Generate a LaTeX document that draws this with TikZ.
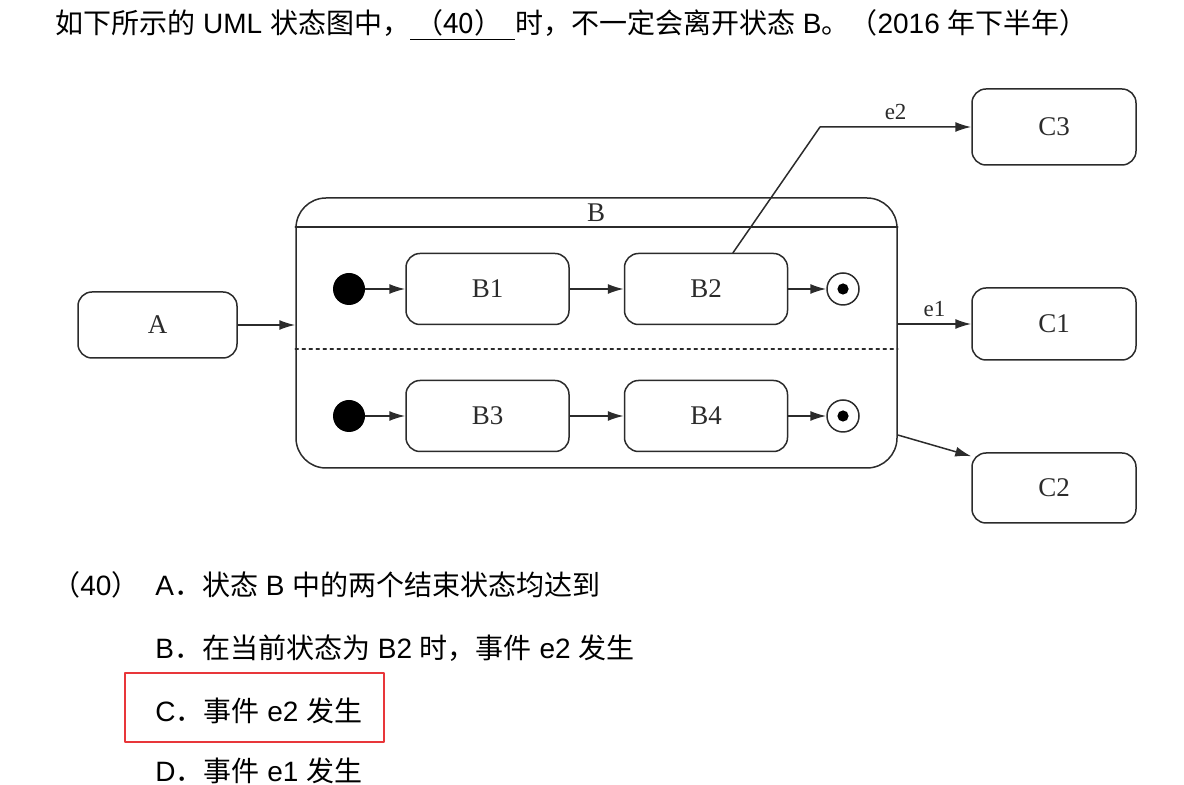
\documentclass[tikz,border=0pt]{standalone}
\usepackage{fontspec}
\setmainfont{Liberation Sans}
\newfontfamily\cjk{Noto Sans CJK SC}
\newfontfamily\tnr{Liberation Serif}
\newcommand{\zh}[1]{{\cjk #1}}
\usetikzlibrary{arrows.meta}
\definecolor{ink}{HTML}{2B2B2B}
\definecolor{mark}{HTML}{E8363A}
\tikzset{
  every picture/.style={line join=round, line cap=round},
  state/.style={draw=ink, line width=0.75pt, rounded corners=7pt, minimum width=81.5pt, minimum height=35.5pt, inner sep=0pt, text=ink, font=\tnr\fontsize{13.5}{15}\selectfont},
  initial/.style={circle, fill=black, minimum size=16pt, inner sep=0pt},
  final/.style={circle, draw=ink, line width=0.75pt, minimum size=16pt, inner sep=0pt},
  trans/.style={draw=ink, line width=0.75pt, -{Latex[length=8pt,width=5pt]}},
  evt/.style={text=ink, font=\tnr\fontsize{11.5}{13}\selectfont},
  txt/.style={anchor=base west, inner sep=0pt, font=\fontsize{14}{16}\selectfont},
}

\begin{document}
\begin{tikzpicture}[x=0.5pt,y=-0.5pt]
\useasboundingbox (0,0) rectangle (1184,785);
% question
\node[txt] (q) at (55,34) {\zh{如下所示的} UML \zh{状态图中，}\underline{\hspace{2.5pt}\zh{（40）}\hspace{6.5pt}}\zh{时，不一定会离开状态} B\zh{。（}2016 \zh{年下半年）}};

% composite state B
\node[state, minimum width=300.5pt, minimum height=135pt, rounded corners=15pt] (B) at (596.5,333) {};
\draw[ink, line width=0.75pt] ([yshift=-15pt]B.north west) -- ([yshift=-15pt]B.north east);
\node[text=ink, font=\tnr\fontsize{13.5}{15}\selectfont] (Bname) at (596,213) {B};
\draw[ink, line width=0.75pt, dash pattern=on 1.5pt off 2pt] ([yshift=-8pt]B.west) -- ([yshift=-8pt]B.east);

\node[state, minimum width=79.5pt, minimum height=33pt] (A) at (157.5,325) {A};

% upper region
\node[initial] (i1) at (349,289) {};
\node[state] (B1) at (487.5,289) {B1};
\node[state] (B2) at (706,289) {B2};
\node[final] (f1) at (843,289) {};
\fill[black] (f1) circle[radius=2.8pt];

% lower region
\node[initial] (i2) at (349,416) {};
\node[state] (B3) at (487.5,416) {B3};
\node[state] (B4) at (706,416) {B4};
\node[final] (f2) at (843,416) {};
\fill[black] (f2) circle[radius=2.8pt];

\node[state, minimum width=82pt, minimum height=38pt] (C3) at (1054,127) {C3};
\node[state, minimum width=82pt, minimum height=36pt] (C1) at (1054,324) {C1};
\node[state, minimum width=82pt, minimum height=35pt] (C2) at (1054,488) {C2};

\draw[trans] (A) -- (A -| B.west);
\draw[trans] (i1) -- (B1);
\draw[trans] (B1) -- (B2);
\draw[trans] (B2) -- (f1);
\draw[trans] (i2) -- (B3);
\draw[trans] (B3) -- (B4);
\draw[trans] (B4) -- (f2);
\coordinate (bend) at (820,127);
\draw[trans] ([xshift=13.5pt]B2.north) -- (bend) -- node[evt, above] (e2) {e2} (C3.west);
\draw[trans] (C1.west -| B.east) -- node[evt, above] (e1) {e1} (C1.west);
\draw[trans] ([yshift=-51pt]B.east) -- ([yshift=-2pt]C2.north west);

% options
\node[txt] (num) at (52,596) {\zh{（}40\zh{）}};
\node[txt] (optA) at (155,596) {A\zh{．状态} B \zh{中的两个结束状态均达到}};
\node[txt] (optB) at (155,659) {B\zh{．在当前状态为} B2 \zh{时，事件} e2 \zh{发生}};
\node[txt] (optC) at (155,722) {C\zh{．事件} e2 \zh{发生}};
\node[txt] (optD) at (155,782) {D\zh{．事件} e1 \zh{发生}};
\node[draw=mark, line width=1pt, minimum width=129.5pt, minimum height=34.5pt, inner sep=0pt] (pick) at (254.5,707.5) {};
\end{tikzpicture}
\end{document}
